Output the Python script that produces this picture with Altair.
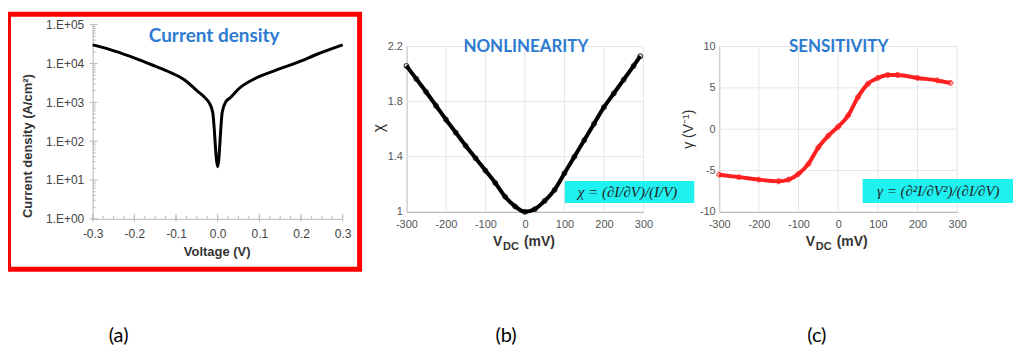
import altair as alt
import pandas as pd

# ---------------- data ----------------
# (a) current density vs voltage
A_V = [-0.30, -0.26, -0.21, -0.16, -0.12, -0.08, -0.05, -0.03, -0.02, -0.012, 0.0,
       0.011, 0.02, 0.03, 0.05, 0.09, 0.14, 0.19, 0.24, 0.30]
A_J = [3.0e4, 2.3e4, 1.52e4, 9.4e3, 6.3e3, 3.8e3, 2.0e3, 1.3e3, 9.5e2, 5.6e2, 22,
       5.6e2, 1.05e3, 1.3e3, 2.2e3, 4.1e3, 6.7e3, 1.05e4, 1.75e4, 3.0e4]
A_XMAJOR = [-0.3, -0.2, -0.1, 0.0, 0.1, 0.2, 0.3]
A_XMINOR = [round(-0.3 + 0.025 * i, 3) for i in range(25)]
A_YMAJOR = [1, 10, 100, 1e3, 1e4, 1e5]
A_YMINOR = [m * 10 ** k for k in range(5) for m in range(2, 10)]

# (b) nonlinearity
B_V = [-300, -275, -250, -225, -200, -175, -150, -125, -100, -75, -50, -25, 0,
       25, 50, 75, 100, 125, 150, 175, 200, 225, 250, 275, 292]
B_CHI = [2.06, 1.965, 1.87, 1.77, 1.67, 1.575, 1.48, 1.39, 1.30, 1.21, 1.11, 1.04, 1.00,
         1.02, 1.08, 1.16, 1.28, 1.40, 1.52, 1.64, 1.76, 1.86, 1.96, 2.06, 2.13]
B_XTICKS = [-300, -200, -100, 0, 100, 200, 300]
B_YTICKS = [1.0, 1.4, 1.8, 2.2]

# (c) sensitivity
C_V = [-300, -250, -200, -150, -125, -100, -75, -50, -25, 0, 25, 50, 75, 100,
       125, 150, 200, 250, 283]
C_GAMMA = [-5.5, -5.8, -6.1, -6.3, -6.1, -5.4, -4.2, -2.2, -0.8, 0.3, 1.65, 3.9, 5.5, 6.2,
           6.55, 6.55, 6.2, 5.9, 5.6]
C_XTICKS = [-300, -200, -100, 0, 100, 200, 300]
C_YTICKS = [-10, -5, 0, 5, 10]

TITLE_A = "Current density"
TITLE_B = "NONLINEARITY"
TITLE_C = "SENSITIVITY"
YLAB_A = "Current density (A/cm²)"
XLAB_A = "Voltage (V)"
YLAB_B = "χ"
YLAB_C = "γ (V⁻¹)"
EQ_B = "χ = (∂I/∂V)/(I/V)"
EQ_C = "γ = (∂²I/∂V²)/(∂I/∂V)"
PANEL_LABELS = ["(a)", "(b)", "(c)"]

BLUE = "#2d7bd0"
CYAN = "#1ff0f0"
SANS = "Liberation Sans"


def txt(s, x, y, **kw):
    return alt.Chart(pd.DataFrame({"t": [s]})).mark_text(**kw).encode(
        text="t:N", x=alt.value(x), y=alt.value(y))


def box(x, x2, y, y2, **kw):
    return alt.Chart(pd.DataFrame({"k": [0]})).mark_rect(**kw).encode(
        x=alt.value(x), x2=alt.value(x2), y=alt.value(y), y2=alt.value(y2))


# ---------------- panel (a) ----------------
WA, H = 251, 195
xa_axis = alt.Axis(values=A_XMAJOR, ticks=False, domainColor="#b8b8b8", labelFont=SANS,
                   labelFontSize=12, labelColor="#444", labelPadding=10, grid=False,
                   labelFlush=False, labelOverlap=False,
                   labelExpr="(datum.value < -0.0001 ? '-' : '') + format(abs(datum.value), '.1f')")
ya_axis = alt.Axis(values=A_YMAJOR, ticks=False, domainColor="#b8b8b8", labelFont=SANS,
                   labelFontSize=12, labelColor="#444", labelPadding=9, grid=False,
                   labelFlush=False, labelOverlap=False,
                   labelExpr="'1.E+0' + round(log(datum.value) / LN10)")
XA = alt.X("v:Q", scale=alt.Scale(domain=[-0.3, 0.3], nice=False, zero=False), axis=xa_axis, title=None)
YA = alt.Y("j:Q", scale=alt.Scale(type="log", domain=[1, 1e5], nice=False), axis=ya_axis, title=None)

dfa = pd.DataFrame({"v": A_V, "j": A_J})
a_frame = box(-84.5, 268, -10.5, 245.5, fill="white", fillOpacity=0, stroke="#ff0000", strokeWidth=5)
a_yminor = alt.Chart(pd.DataFrame({"j": A_YMINOR})).mark_rule(color="#b8b8b8", strokeWidth=1).encode(
    y=YA, x=alt.value(0), x2=alt.value(3))
a_ymajor = alt.Chart(pd.DataFrame({"j": A_YMAJOR})).mark_rule(color="#b8b8b8", strokeWidth=1).encode(
    y=YA, x=alt.value(-3), x2=alt.value(5))
a_xminor = alt.Chart(pd.DataFrame({"v": A_XMINOR})).mark_rule(color="#b8b8b8", strokeWidth=1).encode(
    x=XA, y=alt.value(H), y2=alt.value(H - 3))
a_xmajor = alt.Chart(pd.DataFrame({"v": A_XMAJOR})).mark_rule(color="#b8b8b8", strokeWidth=1).encode(
    x=XA, y=alt.value(H + 3), y2=alt.value(H - 5))
a_line = alt.Chart(dfa).mark_line(color="black", strokeWidth=3, interpolate="monotone").encode(x=XA, y=YA)
panel_a = alt.layer(
    a_frame, a_yminor, a_ymajor, a_xminor, a_xmajor, a_line,
    txt(TITLE_A, 122, 11, font="Lato", fontSize=19, fontWeight="bold", color=BLUE),
    txt(YLAB_A, -65, 122, angle=270, font=SANS, fontSize=13, fontWeight="bold", color="#333"),
    txt(XLAB_A, 125, 228, font=SANS, fontSize=13, fontWeight="bold", color="#333"),
    txt(PANEL_LABELS[0], 26, 313, font="Lato", fontSize=20, color="black"),
).properties(width=WA, height=H)


# ---------------- panels (b) and (c) ----------------
def matlab_panel(xs, ys, xticks, yticks, ydom, xrange_px, color, shape, title, ylab, eq,
                 eq_box, eq_xy, ylab_xy, plab_x, width, ylabfont):
    y_px = [188, 22]
    xax = alt.Axis(values=xticks, ticks=False, domainColor="#9a9a9a", labelFont=SANS,
                   labelFontSize=11, labelColor="#555", labelPadding=7, grid=False, offset=-7,
                   labelFlush=False, labelOverlap=False,
                   labelExpr="(datum.value < 0 ? '-' : '') + format(abs(datum.value), 'd')")
    yax = alt.Axis(values=yticks, ticks=False, domainColor="#9a9a9a", labelFont=SANS,
                   labelFontSize=11, labelColor="#555", labelPadding=4, grid=False,
                   labelFlush=False, labelOverlap=False,
                   labelExpr="(datum.value < 0 ? '-' : '') + format(abs(datum.value), '~g')")
    X = alt.X("x:Q", scale=alt.Scale(domain=[-300, 300], range=xrange_px, nice=False, zero=False),
              axis=xax, title=None)
    Y = alt.Y("y:Q", scale=alt.Scale(domain=ydom, range=y_px, nice=False, zero=False),
              axis=yax, title=None)
    vgrid = alt.Chart(pd.DataFrame({"x": xticks, "y": [ydom[0]] * len(xticks),
                                    "y2": [ydom[1]] * len(xticks)})).mark_rule(
        color="#e6e6e6", strokeWidth=1).encode(x=X, y=Y, y2="y2:Q")
    hgrid = alt.Chart(pd.DataFrame({"y": yticks, "x": [-300] * len(yticks),
                                    "x2": [300] * len(yticks)})).mark_rule(
        color="#e6e6e6", strokeWidth=1).encode(y=Y, x=X, x2="x2:Q")
    df = pd.DataFrame({"x": xs, "y": ys})
    line = alt.Chart(df).mark_line(color=color, strokeWidth=4, interpolate="monotone").encode(x=X, y=Y)
    pts = alt.Chart(df).mark_point(color=color, shape=shape, size=22, strokeWidth=1.2,
                                   filled=False).encode(x=X, y=Y)
    bx = box(eq_box[0], eq_box[1], eq_box[2], eq_box[3], fill=CYAN)
    return alt.layer(
        vgrid, hgrid, line, pts, bx,
        txt(eq, eq_xy[0], eq_xy[1], font="Liberation Serif", fontStyle="italic", fontSize=15,
            color="#222"),
        txt(title, 120, 22, font="Lato", fontSize=17, fontWeight="bold", color=BLUE),
        txt(ylab, ylab_xy[0], ylab_xy[1], angle=270, font=SANS, fontSize=ylabfont, color="#333"),
        txt("V", 87, 222, align="left", baseline="alphabetic", font=SANS, fontSize=14,
            fontWeight="bold", color="#333"),
        txt("DC", 97, 226, align="left", baseline="alphabetic", font=SANS, fontSize=11,
            fontWeight="bold", color="#333"),
        txt("(mV)", 118, 222, align="left", baseline="alphabetic", font=SANS, fontSize=14,
            fontWeight="bold", color="#333"),
        txt(PANEL_LABELS[plab_x[0]], plab_x[1], 313, font="Lato", fontSize=20, color="black"),
    ).properties(width=width, height=H)


panel_b = matlab_panel(B_V, B_CHI, B_XTICKS, B_YTICKS, [1.0, 2.2], [0, 238], "black", "circle",
                       TITLE_B, YLAB_B, EQ_B, (159, 289, 157, 179), (222, 168), (-28, 104),
                       (1, 100), 250, 16)
panel_c = matlab_panel(C_V, C_GAMMA, C_XTICKS, C_YTICKS, [-10, 10], [0, 239], "#ff2020", "cross",
                       TITLE_C, YLAB_C, EQ_C, (144, 295, 155, 179), (220, 167), (-30, 105),
                       (2, 98), 239, 14)

chart = alt.hconcat(panel_a, panel_b, panel_c, spacing=64, bounds="flush").properties(
    padding={"left": -2, "top": 3, "right": 0, "bottom": 0}
).configure_view(strokeWidth=0)

chart.save("out.html", embed_options={"renderer": "svg", "actions": False})
